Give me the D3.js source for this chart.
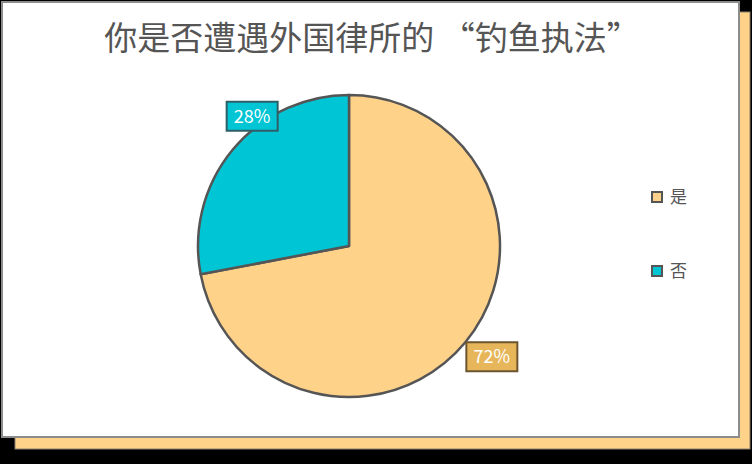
<!DOCTYPE html>
<html>
<head>
<meta charset="utf-8">
<script src="https://cdn.jsdelivr.net/npm/d3@7"></script>
<style>
  html, body { margin: 0; padding: 0; background: #000; }
  svg { display: block; }
</style>
</head>
<body>
<div id="chart"></div>
<script>
// chart values
const categories = ["是", "否"];
const values = [72, 28];
const labels = ["72%", "28%"];
const sliceColors = ["#FFD28A", "#00C5D4"];
const labelFills = ["#E8B65A", "#00C5D4"];
const labelStrokes = ["#6B5530", "#2F5F66"];
const title = "你是否遭遇外国律所的 \u201C钓鱼执法\u201D";

const WIDTH = 752;
const HEIGHT = 464;
const FONT = "'Noto Sans CJK SC', 'Noto Sans', sans-serif";

var svg = d3.select("#chart")
  .append("svg")
  .attr("width", WIDTH)
  .attr("height", HEIGHT);

// background: black, orange shadow card, white card
svg.append("rect").attr("width", WIDTH).attr("height", HEIGHT).attr("fill", "#000");
svg.append("rect")
  .attr("x", 15).attr("y", 12).attr("width", 735).attr("height", 437)
  .attr("fill", "#FFD28A").attr("stroke", "#8a8170").attr("stroke-width", 1);
svg.append("rect")
  .attr("x", 2).attr("y", 2).attr("width", 737).attr("height", 435)
  .attr("fill", "#fff").attr("stroke", "#8c8c8c").attr("stroke-width", 2);

// title
svg.append("text")
  .attr("x", 372).attr("y", 50)
  .attr("text-anchor", "middle")
  .attr("font-family", FONT)
  .attr("font-size", 33)
  .attr("fill", "#555")
  .text(title);

// pie
var cx = 349, cy = 246, radius = 151;
var g = svg.append("g").attr("transform", "translate(" + cx + "," + cy + ")");

var pie = d3.pie().sort(null).value(function(d) { return d; });
var arcs = pie(values);
var arc = d3.arc().innerRadius(0).outerRadius(radius);

g.selectAll("path.slice")
  .data(arcs)
  .enter()
  .append("path")
  .attr("class", "slice")
  .attr("d", arc)
  .attr("fill", function(d, i) { return sliceColors[i]; })
  .attr("stroke", "#555")
  .attr("stroke-width", 2.5)
  .attr("stroke-linejoin", "round");

// labels: box anchored near the slice's outer edge
var boxW = 51, boxH = 29;
arcs.forEach(function(d, i) {
  var mid = (d.startAngle + d.endAngle) / 2;
  var px = radius * Math.sin(mid);
  var py = -radius * Math.cos(mid);
  var bx, by;
  if (px > 0) {
    bx = px + 1; by = py;
  } else {
    bx = px - 6; by = py - boxH - 19;
  }
  var lg = g.append("g").attr("transform", "translate(" + bx + "," + by + ")");
  lg.append("rect")
    .attr("width", boxW).attr("height", boxH)
    .attr("fill", labelFills[i])
    .attr("stroke", labelStrokes[i])
    .attr("stroke-width", 2);
  lg.append("text")
    .attr("x", boxW / 2).attr("y", boxH / 2 + 6.5)
    .attr("text-anchor", "middle")
    .attr("font-family", FONT)
    .attr("font-size", 18)
    .attr("fill", "#fff")
    .text(labels[i]);
});

// legend
var legend = svg.append("g").attr("transform", "translate(651,191)");
categories.forEach(function(c, i) {
  var row = legend.append("g").attr("transform", "translate(0," + (i * 74) + ")");
  row.append("rect")
    .attr("x", 1).attr("y", 1).attr("width", 10).attr("height", 10)
    .attr("fill", sliceColors[i])
    .attr("stroke", "#555")
    .attr("stroke-width", 2);
  row.append("text")
    .attr("x", 19).attr("y", 12)
    .attr("font-family", FONT)
    .attr("font-size", 17)
    .attr("fill", "#555")
    .text(c);
});
</script>
</body>
</html>
